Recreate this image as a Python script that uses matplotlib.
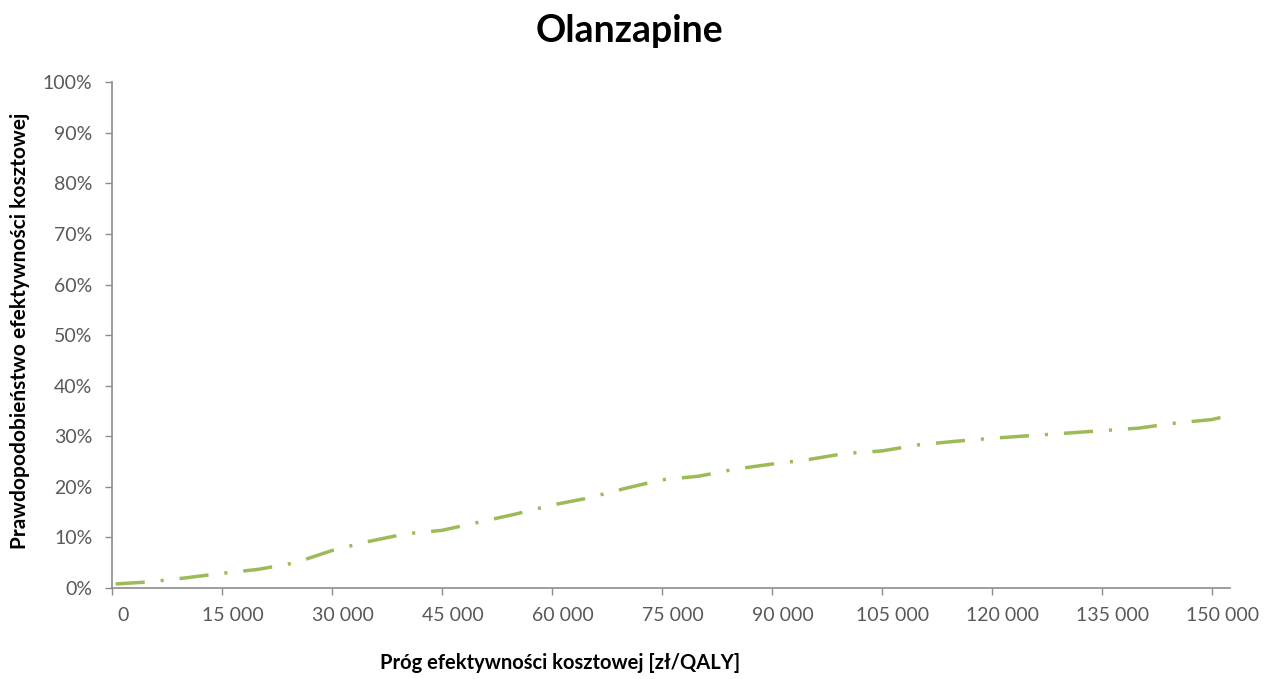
import matplotlib
matplotlib.use("Agg")
import matplotlib.pyplot as plt
from matplotlib.ticker import FuncFormatter
from matplotlib.transforms import ScaledTranslation

plt.rcParams['font.family'] = ['Lato', 'DejaVu Sans']
plt.rcParams['lines.scale_dashes'] = False

# progi [zl/QALY] i prawdopodobienstwo [%]
progi = [500, 5000, 10000, 15000, 20000, 25000, 30000, 35000, 40000, 45000,
         50000, 55000, 60000, 65000, 70000, 75000, 80000, 85000, 90000, 95000,
         100000, 105000, 110000, 115000, 120000, 125000, 130000, 135000,
         140000, 145000, 150000, 151500]
prawd = [0.8, 1.2, 2.0, 2.9, 3.7, 5.0, 7.4, 9.2, 10.7, 11.4,
         13.0, 14.6, 16.4, 17.8, 19.7, 21.4, 22.1, 23.5, 24.5, 25.4,
         26.6, 27.1, 28.3, 29.0, 29.6, 30.1, 30.6, 31.1,
         31.6, 32.6, 33.3, 33.8]

x_ticks = [0, 15000, 30000, 45000, 60000, 75000, 90000, 105000, 120000, 135000, 150000]
y_ticks = [0, 10, 20, 30, 40, 50, 60, 70, 80, 90, 100]

fig = plt.figure(figsize=(12.75, 6.79), dpi=100)
ax = fig.add_axes([0.0878, 0.134, 0.877, 0.745])

ax.plot(progi, prawd, color='#9BBB59', linewidth=2.5,
        linestyle=(0, (21, 11.5, 2.2, 11.5)), solid_capstyle='butt', dash_capstyle='butt')

ax.set_xlim(0, 152500)
ax.set_ylim(0, 100)
ax.set_xticks(x_ticks)
ax.set_yticks(y_ticks)
ax.xaxis.set_major_formatter(FuncFormatter(lambda v, p: f"{int(v):,}".replace(",", " ")))
ax.yaxis.set_major_formatter(FuncFormatter(lambda v, p: f"{int(v)}%"))

for s in ['top', 'right']:
    ax.spines[s].set_visible(False)
for s in ['left', 'bottom']:
    ax.spines[s].set_color('#8C8C8C')
    ax.spines[s].set_linewidth(1.2)

ax.tick_params(axis='both', colors='#8C8C8C', labelcolor='#595959', labelsize=14,
               length=5, width=1, direction='out', pad=9)

# etykiety osi X lekko przesuniete w prawo, jak w Excelu
przes = ScaledTranslation(0.11, 0, fig.dpi_scale_trans)
for lab in ax.get_xticklabels():
    lab.set_transform(lab.get_transform() + przes)

fig.text(0.494, 0.938, "Olanzapine", ha='center', va='baseline', fontsize=27, fontweight='bold')
fig.text(0.439, 0.024, "Próg efektywności kosztowej [zł/QALY]", ha='center', va='center',
         fontsize=14.5, fontweight='bold')
fig.text(0.016, 0.512, "Prawdopodobieństwo efektywności kosztowej", ha='center', va='center',
         rotation=90, fontsize=15, fontweight='bold')

fig.savefig("out.png", dpi=100, facecolor='white')
